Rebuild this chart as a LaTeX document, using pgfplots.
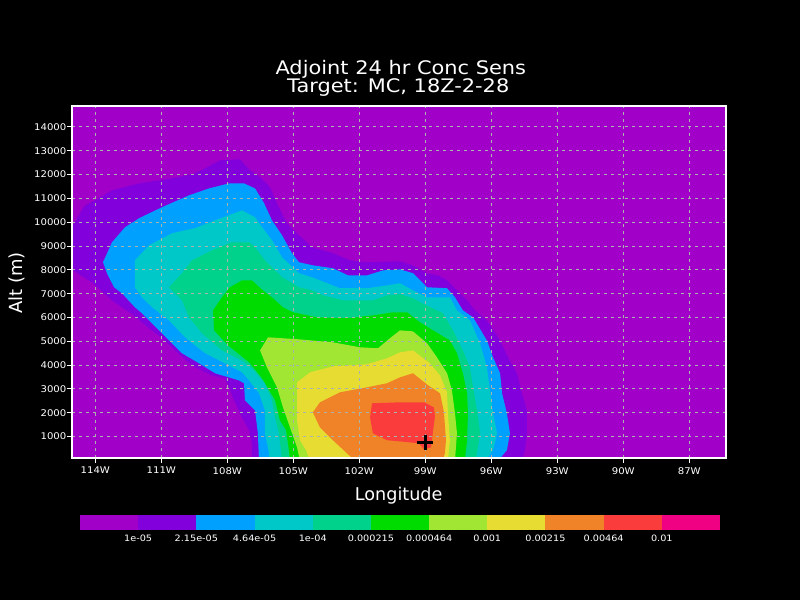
\documentclass[border=0pt]{standalone}
\usepackage{pgfplots}
\pgfplotsset{compat=1.18}
\usepackage{fontspec}
\setmainfont{DejaVu Sans}
\newfontfamily\titlefont[FakeStretch=1.12]{DejaVu Sans}
\newfontfamily\tickfont[FakeStretch=1.1]{DejaVu Sans}
\definecolor{c9}{RGB}{160,0,200}
\definecolor{c14}{RGB}{130,0,220}
\definecolor{c11}{RGB}{0,160,255}
\definecolor{c5}{RGB}{0,200,200}
\definecolor{c13}{RGB}{0,210,140}
\definecolor{c3}{RGB}{0,220,0}
\definecolor{c10}{RGB}{160,230,50}
\definecolor{c7}{RGB}{230,220,50}
\definecolor{c8}{RGB}{240,130,40}
\definecolor{c2}{RGB}{250,60,60}
\definecolor{c6}{RGB}{240,0,130}
\definecolor{gridgray}{RGB}{170,180,170}
\begin{document}
\begin{tikzpicture}
\useasboundingbox (0,0) rectangle (600pt,450pt);
\fill[black] (0,0) rectangle (600pt,450pt);
\begin{axis}[
  at={(54pt,106.5pt)}, anchor=south west,
  scale only axis, width=490.5pt, height=264pt,
  xmin=-115.06, xmax=-85.33, ymin=103, ymax=14880,
  scaled x ticks=false, scaled y ticks=false,
  axis background/.style={fill=c9},
  axis on top,
  axis line style={white, line width=1.5pt},
  tick pos=left, tick align=outside,
  major tick length=3.75pt,
  tick style={white, line width=0.75pt},
  grid=major,
  major grid style={gridgray, line width=0.75pt, dash pattern=on 1.9pt off 3.35pt},
  xtick={-114,-111,-108,-105,-102,-99,-96,-93,-90,-87},
  xticklabels={114W,111W,108W,105W,102W,99W,96W,93W,90W,87W},
  ytick={1000,2000,3000,4000,5000,6000,7000,8000,9000,10000,11000,12000,13000,14000},
  yticklabels={1000,2000,3000,4000,5000,6000,7000,8000,9000,10000,11000,12000,13000,14000},
  /pgf/number format/assume math mode=true,
  ticklabel style={white, font=\tickfont\fontsize{6.9}{8}\selectfont},
  xticklabel style={inner xsep=0pt, inner ysep=3pt},
  yticklabel style={inner xsep=0.3pt, inner ysep=0pt},
]
% level 2 (violet)
\addplot[fill=c14, draw=none] coordinates {(-115.15,9660) (-114.47,10710) (-114.01,10920) (-113.24,11340) (-112.01,11630) (-110.51,11840) (-109.47,12050) (-108.92,12310) (-108.33,12600) (-107.42,12640) (-106.97,12180) (-106.51,11890) (-106.06,11470) (-105.70,10710) (-105.29,9960) (-104.97,9660) (-104.15,8950) (-103.20,8700) (-102.42,8400) (-101.65,8320) (-100.15,8360) (-99.56,8190) (-98.92,7860) (-98.42,7770) (-98.01,7560) (-97.56,7140) (-97.10,6720) (-96.74,6300) (-96.20,5880) (-95.60,5040) (-95.24,4330) (-94.83,3660) (-94.60,2820) (-94.38,2100) (-94.38,1140) (-94.47,430) (-94.60,0) (-106.88,0) (-106.88,720) (-107.01,1270) (-107.33,1810) (-107.70,2530) (-107.92,3070) (-108.11,3450) (-108.70,3570) (-109.61,3990) (-110.24,4500) (-110.83,5040) (-111.61,5590) (-112.38,6180) (-113.24,6720) (-114.11,7440) (-115.15,8070)} -- cycle;
% level 3 (blue)
\addplot[fill=c11, draw=none] coordinates {(-113.65,8320) (-113.24,9160) (-112.65,9790) (-112.01,10170) (-110.97,10630) (-109.74,11130) (-108.83,11420) (-107.92,11630) (-107.24,11630) (-106.74,11420) (-106.33,10800) (-105.97,10080) (-105.51,9450) (-105.06,8700) (-104.74,8320) (-104.11,8190) (-103.20,8070) (-102.51,7770) (-101.65,7770) (-100.92,7980) (-100.15,8020) (-99.56,7860) (-98.92,7270) (-98.01,7230) (-97.65,6850) (-97.29,6300) (-96.83,6010) (-96.20,5040) (-95.92,4330) (-95.60,3660) (-95.51,2820) (-95.29,1980) (-95.15,1140) (-95.29,430) (-95.60,90) (-95.70,0) (-106.56,0) (-106.61,1140) (-106.74,2100) (-107.20,2530) (-107.24,3240) (-107.47,3360) (-108.56,3660) (-109.29,4080) (-110.06,4500) (-110.97,5340) (-111.88,6180) (-112.20,6430) (-112.79,7020) (-113.15,7270) (-113.47,7860)} -- cycle;
% level 4 (cyan)
\addplot[fill=c5, draw=none] coordinates {(-112.20,8400) (-111.56,9030) (-110.51,9540) (-109.47,9750) (-108.56,10080) (-107.33,10500) (-106.74,10210) (-106.42,9790) (-105.97,9240) (-105.51,8530) (-104.74,7860) (-104.15,7690) (-103.79,7560) (-102.88,7230) (-101.65,7230) (-100.74,7350) (-100.15,7440) (-99.56,7140) (-98.92,6850) (-97.88,6850) (-97.56,6300) (-96.97,5880) (-96.51,4920) (-96.20,3910) (-96.06,2950) (-95.92,1980) (-95.74,1140) (-95.92,430) (-96.20,90) (-96.33,0) (-106.10,0) (-106.10,300) (-106.29,1140) (-106.29,2100) (-106.56,2820) (-107.01,3360) (-107.33,3700) (-108.11,4080) (-109.01,4500) (-109.92,5170) (-110.65,5880) (-111.42,6430) (-111.88,6850) (-112.20,7270)} -- cycle;
% level 5 (teal)
\addplot[fill=c13, draw=none] coordinates {(-110.65,7270) (-110.06,7860) (-109.61,8400) (-108.70,8820) (-107.79,9160) (-107.01,9160) (-106.74,8950) (-106.29,8400) (-105.51,7690) (-104.74,7270) (-104.15,7140) (-103.65,6930) (-102.74,6720) (-101.38,6720) (-100.74,6930) (-100.15,6980) (-99.56,6810) (-99.15,6600) (-98.20,6180) (-97.74,5460) (-97.29,4620) (-96.97,3910) (-96.83,3070) (-96.65,2100) (-96.51,1140) (-96.65,300) (-96.74,0) (-105.51,0) (-105.65,1140) (-105.83,1810) (-105.97,2530) (-106.29,3240) (-106.79,3780) (-107.33,4200) (-108.24,4620) (-109.15,5340) (-109.74,6010) (-110.06,6720) (-110.38,7020)} -- cycle;
% level 6 (green)
\addplot[fill=c3, draw=none] coordinates {(-108.65,6300) (-108.24,6850) (-107.88,7270) (-107.33,7560) (-106.88,7560) (-106.38,7140) (-105.97,6850) (-105.47,6430) (-105.01,6220) (-103.92,6010) (-102.56,5970) (-101.38,6090) (-100.47,6220) (-99.83,6220) (-99.24,5800) (-98.65,5460) (-97.88,5040) (-97.56,4500) (-97.29,3660) (-97.10,2820) (-97.06,1980) (-97.10,850) (-97.20,0) (-105.15,0) (-105.20,430) (-105.33,1270) (-105.61,1690) (-105.83,2530) (-106.42,3450) (-107.01,4120) (-107.97,4830) (-108.60,5460)} -- cycle;
% level 7 (yellow-green)
\addplot[fill=c10, draw=none] coordinates {(-106.51,4620) (-106.15,5170) (-104.83,5090) (-103.20,4960) (-101.97,4750) (-101.15,4710) (-100.61,5130) (-100.15,5460) (-99.56,5420) (-98.92,4920) (-98.47,4330) (-98.01,3660) (-97.79,2950) (-97.65,1980) (-97.56,1140) (-97.65,0) (-104.70,0) (-104.83,550) (-105.15,1390) (-105.47,2230) (-105.74,3070) (-106.20,3910)} -- cycle;
% level 8 (yellow)
\addplot[fill=c7, draw=none] coordinates {(-104.83,3280) (-104.24,3700) (-103.20,3950) (-101.65,4040) (-100.74,4290) (-100.15,4540) (-99.56,4620) (-98.79,4080) (-98.33,3570) (-98.01,2860) (-97.97,1980) (-97.88,850) (-97.97,0) (-104.24,0) (-104.42,430) (-104.70,850) (-104.83,1690) (-104.83,2530)} -- cycle;
% level 9 (orange)
\addplot[fill=c8, draw=none] coordinates {(-104.11,2020) (-103.79,2440) (-102.88,2860) (-101.65,3070) (-100.74,3240) (-100.15,3490) (-99.56,3660) (-98.88,3160) (-98.33,2820) (-98.15,2020) (-98.06,850) (-98.11,300) (-98.20,0) (-102.20,0) (-102.56,300) (-103.20,850) (-103.79,1390)} -- cycle;
% level 10 (red)
\addplot[fill=c2, draw=none] coordinates {(-101.42,2400) (-100.15,2440) (-99.06,2440) (-98.61,2230) (-98.56,1850) (-98.65,1220) (-98.74,550) (-99.06,470) (-99.29,720) (-100.15,800) (-100.74,850) (-101.38,1140) (-101.51,1810)} -- cycle;
% target marker
\addplot[only marks, mark=+, mark size=5.9pt, mark options={draw=black, line width=2pt}] coordinates {(-99,750)};
\end{axis}
% colour bar
\begin{axis}[
  at={(60pt,52.5pt)}, anchor=south west,
  scale only axis, width=480pt, height=11.25pt,
  xmin=0, xmax=11, ymin=0, ymax=1,
  axis line style={draw=none},
  tick style={draw=none}, major tick length=0pt,
  ytick=\empty,
  xtick={1,2,3,4,5,6,7,8,9,10},
  xticklabels={1e-05,2.15e-05,4.64e-05,1e-04,0.000215,0.000464,0.001,0.00215,0.00464,0.01},
  /pgf/number format/assume math mode=true,
  xticklabel style={white, font=\tickfont\fontsize{6.6}{8}\selectfont, inner sep=0pt, yshift=-3.2pt},
]
\addplot[fill=c9, draw=none] coordinates {(0,0) (1,0) (1,1) (0,1)} -- cycle;
\addplot[fill=c14, draw=none] coordinates {(1,0) (2,0) (2,1) (1,1)} -- cycle;
\addplot[fill=c11, draw=none] coordinates {(2,0) (3,0) (3,1) (2,1)} -- cycle;
\addplot[fill=c5, draw=none] coordinates {(3,0) (4,0) (4,1) (3,1)} -- cycle;
\addplot[fill=c13, draw=none] coordinates {(4,0) (5,0) (5,1) (4,1)} -- cycle;
\addplot[fill=c3, draw=none] coordinates {(5,0) (6,0) (6,1) (5,1)} -- cycle;
\addplot[fill=c10, draw=none] coordinates {(6,0) (7,0) (7,1) (6,1)} -- cycle;
\addplot[fill=c7, draw=none] coordinates {(7,0) (8,0) (8,1) (7,1)} -- cycle;
\addplot[fill=c8, draw=none] coordinates {(8,0) (9,0) (9,1) (8,1)} -- cycle;
\addplot[fill=c2, draw=none] coordinates {(9,0) (10,0) (10,1) (9,1)} -- cycle;
\addplot[fill=c6, draw=none] coordinates {(10,0) (11,0) (11,1) (10,1)} -- cycle;
\end{axis}
% titles and axis labels
\node[white, anchor=base, inner sep=0pt] at (300.6pt,393.75pt) {\titlefont\fontsize{14}{16}\selectfont Adjoint 24 hr Conc Sens};
\node[white, anchor=base, inner sep=0pt] at (298.7pt,380.5pt) {\titlefont\fontsize{14}{16}\selectfont Target: MC, 18Z-2-28};
\node[white, anchor=base, inner sep=0pt] at (299pt,74.5pt) {\fontsize{13.2}{16}\selectfont Longitude};
\node[white, anchor=center, inner sep=0pt, rotate=90] at (12.5pt,237.75pt) {\fontsize{13.5}{16}\selectfont Alt (m)};
\end{tikzpicture}
\end{document}
